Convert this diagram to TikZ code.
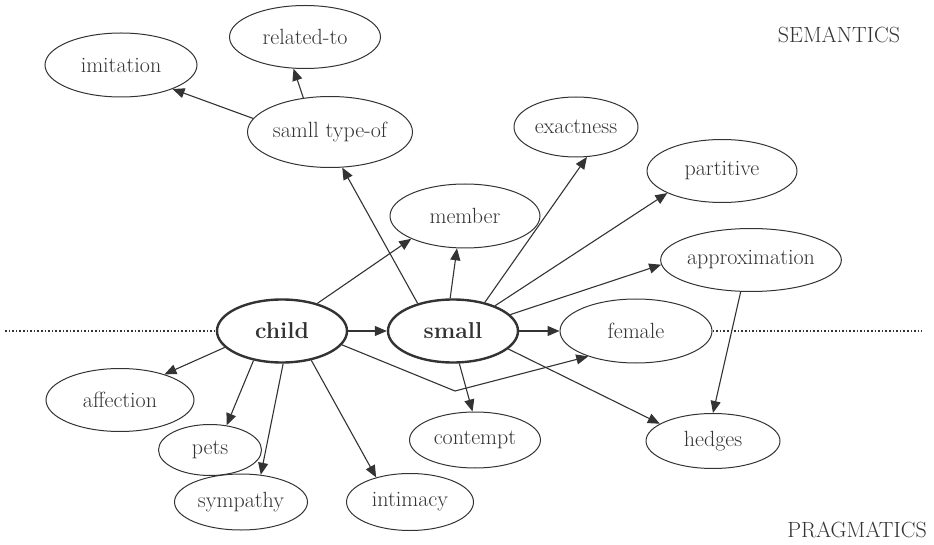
\documentclass[tikz,border=0pt]{standalone}
\usepackage{tikz}
\usetikzlibrary{shapes.geometric, arrows.meta}
\definecolor{ink}{RGB}{51,51,51}

\begin{document}
\begin{tikzpicture}[x=1pt, y=-1pt]
      \tikzset{ ell/.style ={draw=ink, ellipse, line width=1pt, inner sep=0pt, text=ink, font=\fontsize{22}{25}\selectfont} }
      \tikzset{ bell/.style={ell, line width=2.4pt, font=\fontsize{23}{26}\selectfont\bfseries} }
      \tikzset{ arr/.style ={draw=ink, line width=1.1pt, -{Triangle[length=12pt, width=10pt]}} }
      \tikzset{ sep/.style ={draw=ink, line width=1.6pt, dotted} }
      \tikzset{ lvl/.style ={text=ink, font=\fontsize{22}{25}\selectfont} }

      \useasboundingbox (0,0) rectangle (934,545);

      \node[ell , minimum width=152, minimum height=64] (imit)    at (121,65)  {imitation};
      \node[ell , minimum width=151, minimum height=63] (rel)     at (305,37)  {related-to};
      \node[ell , minimum width=165, minimum height=71] (typeof)  at (330,132) {samll type-of};
      \node[ell , minimum width=124, minimum height=60] (exact)   at (576,127) {exactness};
      \node[ell , minimum width=150, minimum height=63] (part)    at (722,171) {partitive};
      \node[ell , minimum width=150, minimum height=64] (member)  at (465,216) {member};
      \node[ell , minimum width=173, minimum height=63] (approx)  at (751,260) {approximation};
      \node[bell, minimum width=130, minimum height=63] (child)   at (282,331) {child};
      \node[bell, minimum width=130, minimum height=63] (small)   at (453,331) {small};
      \node[ell , minimum width=152, minimum height=64] (female)  at (636,331) {female};
      \node[ell , minimum width=134, minimum height=55] (hedges)  at (713,441) {hedges};
      \node[ell , minimum width=131, minimum height=56] (contempt) at (475,440) {contempt};
      \node[ell , minimum width=148, minimum height=63] (affect)  at (120,400) {affection};
      \node[ell , minimum width=103, minimum height=51] (pets)    at (210,450) {pets};
      \node[ell , minimum width=133, minimum height=56] (symp)    at (241,502) {sympathy};
      \node[ell , minimum width=127, minimum height=57] (intim)   at (410,502) {intimacy};

      \node[lvl] (sem)  at (839,35)  {SEMANTICS};
      \node[lvl] (prag) at (857,530) {PRAGMATICS};

      \coordinate (left)  at (5,331);
      \coordinate (right) at (922,331);
      \coordinate (bend)  at (455,391);

      \draw[sep] (left) -- (child.west);
      \draw[sep] (female.east) -- (right);

      \draw[arr] (typeof.170) -- (imit.-25);
      \draw[arr] (typeof.128) -- (rel.250);
      \draw[arr] (small.142) -- (typeof.289);
      \draw[arr] (child.38) -- (member.203);
      \draw[arr] (small.95) -- (member.256);
      \draw[arr] (small.42) -- (exact.290);
      \draw[arr] (small.31) -- (part.202);
      \draw[arr] (small.16) -- (approx.183);
      \draw[arr] (child.east) -- (small.west);
      \draw[arr] (small.east) -- (female.west);
      \draw[arr] (child.-13) -- (bend) -- (female.208);
      \draw[arr] (small.-79) -- (contempt.95);
      \draw[arr] (small.-18) -- (hedges.162);
      \draw[arr] (approx.252) -- (hedges.90);
      \draw[arr] (child.196) -- (affect.30);
      \draw[arr] (child.226) -- (pets.56);
      \draw[arr] (child.272) -- (symp.54);
      \draw[arr] (child.-45) -- (intim.144);
\end{tikzpicture}
\end{document}
